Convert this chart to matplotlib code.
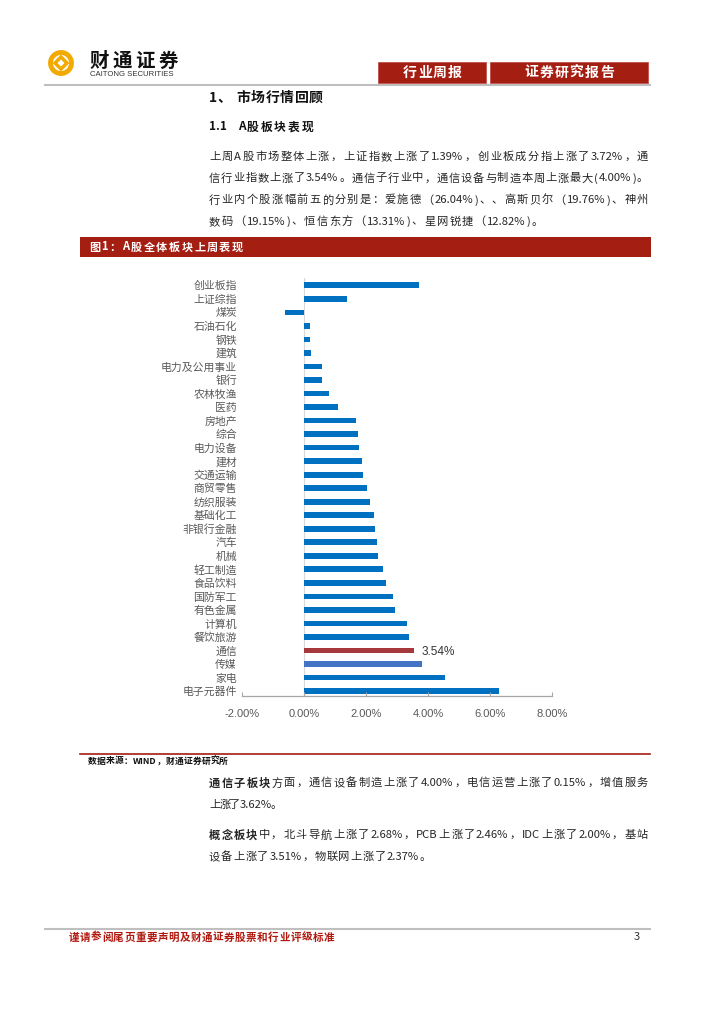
import re
import matplotlib
matplotlib.use('Agg')
import matplotlib.pyplot as plt
from matplotlib.patches import Rectangle, Circle, RegularPolygon

plt.rcParams['font.family'] = ['Noto Sans CJK SC', 'DejaVu Sans']

# 数据：A股各板块上周涨跌幅 (%)
cats = ['创业板指', '上证综指', '煤炭', '石油石化', '钢铁', '建筑', '电力及公用事业', '银行',
        '农林牧渔', '医药', '房地产', '综合', '电力设备', '建材', '交通运输', '商贸零售',
        '纺织服装', '基础化工', '非银行金融', '汽车', '机械', '轻工制造', '食品饮料', '国防军工',
        '有色金属', '计算机', '餐饮旅游', '通信', '传媒', '家电', '电子元器件']
vals = [3.72, 1.39, -0.62, 0.20, 0.20, 0.24, 0.57, 0.60, 0.82, 1.10, 1.68, 1.74, 1.78,
        1.88, 1.91, 2.05, 2.14, 2.25, 2.28, 2.36, 2.40, 2.55, 2.66, 2.87, 2.93, 3.32,
        3.38, 3.54, 3.82, 4.54, 6.30]
xticks = [-2, 0, 2, 4, 6, 8]
xticklabels = ['-2.00%', '0.00%', '2.00%', '4.00%', '6.00%', '8.00%']

RED = '#A41E12'
W, H = 724, 1024
fig = plt.figure(figsize=(W / 100, H / 100), dpi=100)
bg = fig.add_axes([0, 0, 1, 1])
bg.set_xlim(0, W)
bg.set_ylim(H, 0)
bg.axis('off')
rend = fig.canvas.get_renderer()


def line(x0, x1, y, segs, size, color='#262626'):
    # 两端对齐：逐字放置，把多余的空隙均分
    arts = []
    for s, w in segs:
        for t in re.findall(r'[A-Za-z0-9.%]+|.', s):
            arts.append(bg.text(0, y, t, fontsize=size, fontweight=w, color=color,
                                va='center', ha='left'))
    wd = [a.get_window_extent(rend).width for a in arts]
    gap = (x1 - x0 - sum(wd)) / max(len(arts) - 1, 1)
    x = x0
    for a, w in zip(arts, wd):
        a.set_x(x)
        x += w + gap


# 页眉
bg.add_patch(Circle((61, 63), 10.5, fill=False, ec='#F2A900', lw=3.5))
bg.add_patch(RegularPolygon((61, 63), 4, radius=6, fill=False, ec='#F2A900', lw=2.5))
line(90, 178, 61, [('财通证券', 'bold')], 14, color='#111111')
bg.text(90, 75, 'CAITONG SECURITIES', fontsize=5.6, family='Liberation Sans',
        color='#333333', va='center', ha='left')
bg.add_patch(Rectangle((378, 62), 108, 21, fc=RED, ec='#C0504D', lw=0.6))
bg.add_patch(Rectangle((490, 62), 158, 21, fc=RED, ec='#C0504D', lw=0.6))
line(403, 462, 72.5, [('行业周报', 'bold')], 10, color='white')
line(524, 614, 72.5, [('证券研究报告', 'bold')], 10, color='white')
bg.plot([45, 650], [85, 85], color='#BFBFBF', lw=1.5)

# 正文
line(209, 323, 98, [('1、 市场行情回顾', 'bold')], 10, color='#111111')
line(209, 313, 127, [('1.1  A股板块表现', 'bold')], 8.5, color='#111111')
para1 = ['上周A股市场整体上涨，上证指数上涨了1.39%，创业板成分指上涨了3.72%，通',
         '信行业指数上涨了3.54%。通信子行业中，通信设备与制造本周上涨最大(4.00%)。',
         '行业内个股涨幅前五的分别是：爱施德（26.04%)、、高斯贝尔（19.76%)、神州',
         '数码（19.15%)、恒信东方（13.31%)、星网锐捷（12.82%)。']
ends1 = [648, 648, 648, 543]
for i, (s, e) in enumerate(zip(para1, ends1)):
    line(209, e, 156.7 + i * 21.7, [(s, 'normal')], 8.1)

# 图标题
bg.add_patch(Rectangle((80, 237), 571, 20, fc=RED, ec='none'))
line(89, 243, 247, [('图1：A股全体板块上周表现', 'bold')], 8, color='white')

# 图表
ax = fig.add_axes([241.7 / W, 1 - 695.5 / H, (552.3 - 241.7) / W, (695.5 - 277.9) / H])
colors = ['#0070C0'] * len(cats)
colors[cats.index('通信')] = '#A5383A'
colors[cats.index('传媒')] = '#4472C4'
ypos = list(range(len(cats)))
ax.barh(ypos, vals, height=0.42, color=colors)
ax.set_xlim(-2, 8)
ax.set_ylim(30.33, -0.55)
ax.axvline(0, color='#D9D9D9', lw=0.8, zorder=0)
for sp in ['top', 'right', 'left']:
    ax.spines[sp].set_visible(False)
ax.spines['bottom'].set_color('#A6A6A6')
ax.spines['bottom'].set_linewidth(0.9)
ax.set_xticks(xticks)
ax.set_xticklabels(xticklabels, fontsize=8, family='Liberation Sans', color='#595959')
ax.tick_params(axis='x', direction='in', length=3, color='#A6A6A6', pad=10)
ax.set_yticks(ypos)
ax.set_yticklabels(cats, fontsize=7.8, color='#595959')
ax.tick_params(axis='y', length=0, pad=3.4)
k = cats.index('通信')
ax.text(vals[k] + 0.25, k + 0.1, '%.2f%%' % vals[k], fontsize=8.5,
        family='Liberation Sans', color='#333333', va='center', ha='left')
ax.patch.set_alpha(0)

# 数据来源
bg.plot([80, 650], [754, 754], color=RED, lw=1.2)
line(88, 228, 761, [('数据来源：WIND，财通证券研究所', 'bold')], 6.3, color='#111111')

para2 = [[('通信子板块', 'bold'), ('方面，通信设备制造上涨了4.00%，电信运营上涨了0.15%，增值服务', 'normal')],
         [('上涨了3.62%。', 'normal')],
         [('概念板块', 'bold'), ('中，北斗导航上涨了2.68%，PCB上涨了2.46%，IDC上涨了2.00%，基站', 'normal')],
         [('设备上涨了3.51%，物联网上涨了2.37%。', 'normal')]]
ends2 = [648, 282, 648, 431]
ys2 = [783, 805, 835, 857]
for segs, e, y in zip(para2, ends2, ys2):
    line(209, e, y, segs, 8.1)

# 页脚
bg.plot([45, 650], [929, 929], color='#BFBFBF', lw=1.5)
line(69, 334, 937.5, [('谨请参阅尾页重要声明及财通证券股票和行业评级标准', 'bold')], 7.6, color='#B0180E')
bg.text(634, 937.5, '3', fontsize=8, color='#333333', va='center', ha='left')

fig.savefig('out.png', dpi=100)
